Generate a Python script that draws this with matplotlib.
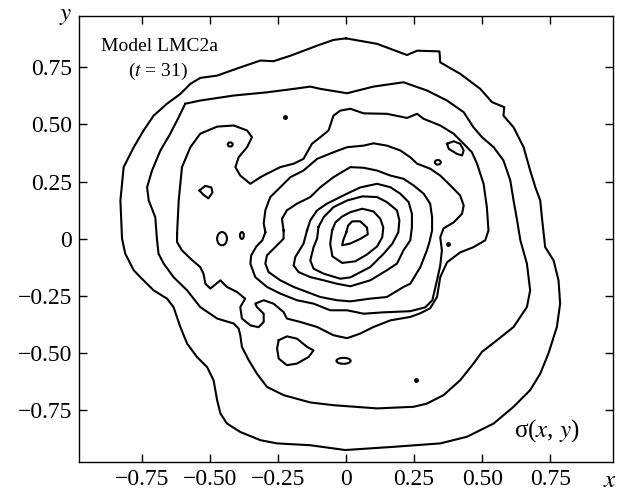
import matplotlib
matplotlib.use("Agg")
import matplotlib.pyplot as plt
from matplotlib.patches import Ellipse

plt.rcParams["font.family"] = ["Liberation Serif", "DejaVu Serif"]
plt.rcParams["mathtext.fontset"] = "stix"

# contour levels of sigma(x, y), outermost first, traced as closed (x, y) loops
level1 = [(0.000, 0.876), (0.114, 0.852), (0.224, 0.803), (0.261, 0.822), (0.343, 0.819),
          (0.346, 0.771), (0.419, 0.721), (0.493, 0.655), (0.536, 0.597), (0.581, 0.575),
          (0.578, 0.538), (0.615, 0.487), (0.652, 0.400), (0.676, 0.298), (0.695, 0.225),
          (0.713, 0.167), (0.719, 0.094), (0.731, -0.037), (0.762, -0.095), (0.780, -0.182),
          (0.786, -0.284), (0.774, -0.386), (0.743, -0.502), (0.713, -0.590), (0.676, -0.662),
          (0.615, -0.735), (0.542, -0.808), (0.444, -0.866), (0.346, -0.895), (0.175, -0.910),
          (-0.003, -0.924), (-0.131, -0.903), (-0.253, -0.895), (-0.314, -0.881), (-0.388, -0.845),
          (-0.437, -0.808), (-0.461, -0.764), (-0.473, -0.706), (-0.486, -0.619), (-0.510, -0.561),
          (-0.547, -0.517), (-0.583, -0.459), (-0.608, -0.386), (-0.633, -0.299), (-0.657, -0.262),
          (-0.706, -0.226), (-0.755, -0.168), (-0.779, -0.138), (-0.810, -0.066), (-0.822, 0.000),
          (-0.828, 0.167), (-0.816, 0.313), (-0.779, 0.400), (-0.743, 0.473), (-0.706, 0.538),
          (-0.657, 0.590), (-0.608, 0.633), (-0.571, 0.677), (-0.535, 0.703), (-0.473, 0.713),
          (-0.388, 0.749), (-0.314, 0.779), (-0.266, 0.776), (-0.204, 0.800), (-0.137, 0.830),
          (-0.106, 0.844), (-0.046, 0.869)]

level2 = [(-0.590, 0.590), (-0.535, 0.604), (-0.412, 0.626), (-0.290, 0.640), (-0.192, 0.655),
          (-0.131, 0.665), (-0.094, 0.655), (0.004, 0.636), (0.101, 0.665), (0.211, 0.684),
          (0.297, 0.648), (0.371, 0.604), (0.432, 0.553), (0.468, 0.487), (0.499, 0.444),
          (0.542, 0.400), (0.578, 0.342), (0.603, 0.255), (0.615, 0.167), (0.628, 0.080),
          (0.640, -0.007), (0.664, -0.109), (0.676, -0.226), (0.664, -0.299), (0.615, -0.386),
          (0.554, -0.444), (0.499, -0.495), (0.468, -0.546), (0.419, -0.619), (0.358, -0.684),
          (0.297, -0.721), (0.248, -0.735), (0.114, -0.742), (-0.046, -0.728), (-0.131, -0.716),
          (-0.229, -0.684), (-0.290, -0.648), (-0.327, -0.590), (-0.357, -0.531), (-0.382, -0.473),
          (-0.388, -0.422), (-0.394, -0.393), (-0.412, -0.371), (-0.473, -0.349), (-0.535, -0.299),
          (-0.583, -0.226), (-0.633, -0.168), (-0.669, -0.109), (-0.688, -0.066), (-0.694, 0.000),
          (-0.700, 0.094), (-0.724, 0.167), (-0.730, 0.225), (-0.712, 0.298), (-0.681, 0.386),
          (-0.645, 0.459), (-0.614, 0.531)]

level3 = [(-0.620, 0.022), (-0.614, 0.167), (-0.602, 0.313), (-0.571, 0.400), (-0.535, 0.459),
          (-0.473, 0.490), (-0.412, 0.495), (-0.363, 0.473), (-0.345, 0.444), (-0.363, 0.400),
          (-0.394, 0.356), (-0.406, 0.313), (-0.388, 0.276), (-0.351, 0.240), (-0.314, 0.269),
          (-0.290, 0.284), (-0.241, 0.313), (-0.192, 0.328), (-0.156, 0.349), (-0.125, 0.415),
          (-0.094, 0.444), (-0.064, 0.473), (-0.046, 0.538), (-0.021, 0.560), (0.016, 0.568),
          (0.065, 0.548), (0.150, 0.546), (0.224, 0.528), (0.261, 0.546), (0.285, 0.524),
          (0.346, 0.495), (0.395, 0.459), (0.432, 0.415), (0.462, 0.378), (0.481, 0.328),
          (0.505, 0.240), (0.517, 0.138), (0.523, 0.036), (0.511, -0.007), (0.468, -0.037),
          (0.419, -0.060), (0.371, -0.103), (0.346, -0.168), (0.334, -0.255), (0.309, -0.304),
          (0.273, -0.326), (0.236, -0.342), (0.163, -0.357), (0.101, -0.386), (0.052, -0.415),
          (0.004, -0.435), (-0.046, -0.422), (-0.106, -0.386), (-0.168, -0.364), (-0.217, -0.349),
          (-0.229, -0.321), (-0.266, -0.284), (-0.302, -0.269), (-0.333, -0.284), (-0.327, -0.299),
          (-0.302, -0.328), (-0.302, -0.364), (-0.321, -0.387), (-0.351, -0.379), (-0.382, -0.349),
          (-0.388, -0.299), (-0.370, -0.262), (-0.400, -0.233), (-0.437, -0.211), (-0.461, -0.182),
          (-0.498, -0.218), (-0.516, -0.197), (-0.523, -0.153), (-0.535, -0.124), (-0.571, -0.087),
          (-0.602, -0.051), (-0.620, -0.015)]

level4 = [(-0.296, 0.028), (-0.302, 0.066), (-0.296, 0.124), (-0.278, 0.182), (-0.241, 0.225),
          (-0.204, 0.269), (-0.156, 0.298), (-0.106, 0.349), (-0.046, 0.378), (0.004, 0.400),
          (0.065, 0.407), (0.101, 0.417), (0.150, 0.407), (0.199, 0.386), (0.236, 0.356),
          (0.261, 0.328), (0.309, 0.306), (0.346, 0.276), (0.383, 0.233), (0.419, 0.189),
          (0.432, 0.145), (0.426, 0.109), (0.395, 0.071), (0.358, 0.045), (0.346, 0.006),
          (0.352, -0.051), (0.346, -0.117), (0.334, -0.182), (0.317, -0.269), (0.291, -0.300),
          (0.236, -0.317), (0.137, -0.322), (0.065, -0.328), (0.004, -0.313), (-0.058, -0.313),
          (-0.119, -0.284), (-0.180, -0.269), (-0.241, -0.240), (-0.290, -0.211), (-0.333, -0.168),
          (-0.351, -0.109), (-0.348, -0.073), (-0.329, -0.034), (-0.307, -0.007)]

level5 = [(-0.229, 0.036), (-0.235, 0.087), (-0.217, 0.124), (-0.180, 0.153), (-0.131, 0.182),
          (-0.094, 0.225), (-0.046, 0.269), (0.016, 0.313), (0.065, 0.310), (0.114, 0.298),
          (0.163, 0.276), (0.211, 0.262), (0.248, 0.233), (0.285, 0.197), (0.309, 0.153),
          (0.316, 0.094), (0.316, 0.036), (0.306, -0.016), (0.297, -0.051), (0.273, -0.124),
          (0.236, -0.197), (0.211, -0.211), (0.150, -0.255), (0.089, -0.262), (0.016, -0.274),
          (-0.033, -0.269), (-0.094, -0.255), (-0.143, -0.233), (-0.192, -0.211), (-0.241, -0.182),
          (-0.284, -0.146), (-0.296, -0.109), (-0.290, -0.073), (-0.266, -0.044), (-0.229, 0.000)]

level6 = [(-0.143, 0.036), (-0.131, 0.080), (-0.106, 0.124), (-0.070, 0.153), (-0.033, 0.175),
          (0.004, 0.197), (0.052, 0.224), (0.114, 0.240), (0.163, 0.225), (0.199, 0.197),
          (0.230, 0.160), (0.242, 0.109), (0.242, 0.051), (0.236, -0.007), (0.211, -0.051),
          (0.187, -0.109), (0.150, -0.138), (0.089, -0.182), (0.016, -0.208), (-0.033, -0.197),
          (-0.082, -0.182), (-0.131, -0.168), (-0.174, -0.146), (-0.192, -0.117), (-0.186, -0.080),
          (-0.156, -0.022)]

level7 = [(-0.101, 0.051), (-0.082, 0.094), (-0.046, 0.138), (0.004, 0.167), (0.060, 0.185),
          (0.114, 0.182), (0.150, 0.160), (0.187, 0.124), (0.196, 0.080), (0.192, 0.028),
          (0.170, -0.022), (0.138, -0.066), (0.089, -0.124), (0.016, -0.169), (-0.021, -0.175),
          (-0.082, -0.153), (-0.119, -0.131), (-0.131, -0.095), (-0.119, -0.037), (-0.106, 0.001)]

level8 = [(-0.051, 0.036), (-0.039, 0.071), (-0.014, 0.097), (0.016, 0.116), (0.060, 0.131),
          (0.101, 0.119), (0.126, 0.087), (0.137, 0.049), (0.133, 0.006), (0.114, -0.034),
          (0.077, -0.069), (0.034, -0.099), (-0.014, -0.106), (-0.050, -0.077), (-0.058, -0.022)]

level9 = [(0.001, 0.028), (0.008, 0.058), (0.023, 0.076), (0.052, 0.076), (0.077, 0.049),
          (0.080, 0.019), (0.052, -0.001), (0.016, -0.021), (-0.014, -0.029), (-0.010, -0.007)]

# small isolated contours
blob_left = [(-0.538, 0.211), (-0.516, 0.231), (-0.494, 0.224), (-0.490, 0.202),
             (-0.505, 0.176), (-0.524, 0.193)]
blob_bottom = [(-0.247, -0.444), (-0.217, -0.427), (-0.180, -0.437), (-0.143, -0.473),
               (-0.119, -0.488), (-0.137, -0.517), (-0.180, -0.546), (-0.217, -0.553),
               (-0.247, -0.524), (-0.253, -0.480)]
blob_right = [(0.371, 0.415), (0.395, 0.426), (0.419, 0.415), (0.432, 0.386),
              (0.426, 0.364), (0.407, 0.371), (0.377, 0.393)]

oval_x = [-0.425, -0.455, -0.382, -0.009, 0.337]
oval_y = [0.412, 0.000, 0.014, -0.534, 0.334]
oval_w = [0.018, 0.036, 0.014, 0.052, 0.022]
oval_h = [0.018, 0.058, 0.030, 0.026, 0.020]

dot_x = [-0.225, 0.376, 0.257]
dot_y = [0.531, -0.022, -0.619]

tick_vals = [-0.75, -0.50, -0.25, 0.0, 0.25, 0.50, 0.75]
tick_labels = ["\u22120.75", "\u22120.50", "\u22120.25", "0", "0.25", "0.50", "0.75"]

fig = plt.figure(figsize=(6.19, 4.92), dpi=100)
ax = fig.add_axes([0.1276, 0.0616, 0.8627, 0.9065])

for loop in [level1, level2, level3, level4, level5, level6, level7, level8, level9,
             blob_left, blob_bottom, blob_right]:
    xs = [p[0] for p in loop] + [loop[0][0]]
    ys = [p[1] for p in loop] + [loop[0][1]]
    ax.plot(xs, ys, color="black", lw=1.5, solid_joinstyle="round")

for x, y, w, h in zip(oval_x, oval_y, oval_w, oval_h):
    ax.add_patch(Ellipse((x, y), w, h, fill=False, ec="black", lw=1.5))

ax.plot(dot_x, dot_y, "o", color="black", ms=2.5)

ax.set_xlim(-0.98, 0.98)
ax.set_ylim(-0.975, 0.975)
ax.set_xticks(tick_vals)
ax.set_xticklabels(tick_labels)
ax.set_yticks(tick_vals)
ax.set_yticklabels(tick_labels)
ax.tick_params(direction="in", top=True, right=True, length=6, width=1,
               labelsize=17, pad=5)
for s in ax.spines.values():
    s.set_linewidth(1)

ax.text(-0.025, 1.0, "$y$", transform=ax.transAxes, fontsize=18,
        ha="center", va="center")
ax.text(0.995, -0.043, "$x$", transform=ax.transAxes, fontsize=18,
        ha="center", va="center")
ax.text(0.15, 0.932, "Model LMC2a", transform=ax.transAxes, fontsize=14,
        ha="center", va="center")
ax.text(0.148, 0.875, "($t$ = 31)", transform=ax.transAxes, fontsize=14,
        ha="center", va="center")
ax.text(0.876, 0.07, "\u03c3($x$, $y$)", transform=ax.transAxes, fontsize=18,
        ha="center", va="center")

fig.savefig("out.png", dpi=100)
